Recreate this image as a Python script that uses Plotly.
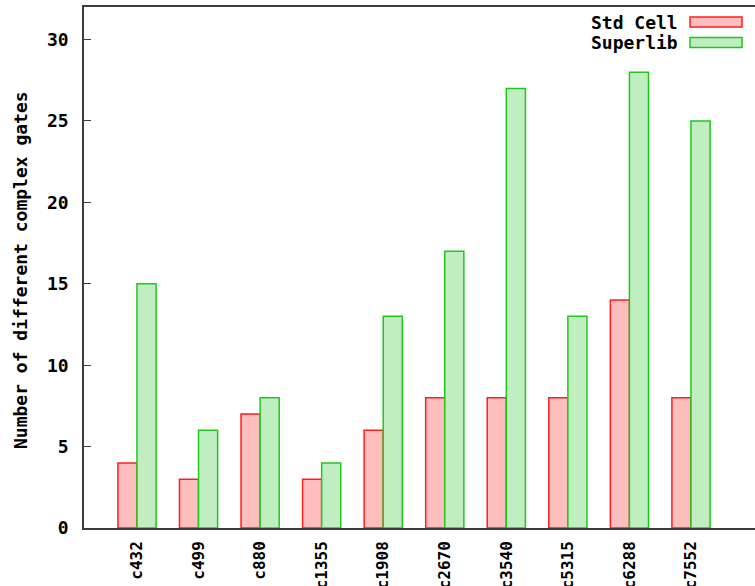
import plotly.graph_objects as go

circuits = ["c432", "c499", "c880", "c1355", "c1908", "c2670", "c3540", "c5315", "c6288", "c7552"]
std_cell = [4, 3, 7, 3, 6, 8, 8, 8, 14, 8]
superlib = [15, 6, 8, 4, 13, 17, 27, 13, 28, 25]
series_names = ["Std Cell", "Superlib"]
y_ticks = [0, 5, 10, 15, 20, 25, 30]

W, H = 755, 586
L, R, T, B = 84, 0, 7, 58
PW, PH = W - L - R, H - T - B

FONT = "DejaVu Sans Mono"
FS = 18
red_fill, red_line = "rgb(255,190,190)", "rgb(255,30,30)"
green_fill, green_line = "rgb(192,238,192)", "rgb(30,200,30)"

fig = go.Figure()
fig.add_trace(go.Bar(x=circuits, y=std_cell, name=series_names[0],
                     marker=dict(color=red_fill, line=dict(color=red_line, width=1.5))))
fig.add_trace(go.Bar(x=circuits, y=superlib, name=series_names[1],
                     marker=dict(color=green_fill, line=dict(color=green_line, width=1.5))))


def px_x(p):
    return (p - L) / PW


def px_y(p):
    return (H - B - p) / PH


# key drawn in the top right corner: label then swatch
shapes = []
annotations = []
for i, (name, fc, lc) in enumerate([(series_names[0], red_fill, red_line),
                                      (series_names[1], green_fill, green_line)]):
    yc = 22 + i * 20.5
    shapes.append(dict(type="rect", xref="paper", yref="paper",
                       x0=px_x(690), x1=px_x(742), y0=px_y(yc + 5), y1=px_y(yc - 5),
                       fillcolor=fc, line=dict(color=lc, width=1.5)))
    annotations.append(dict(text="<b>%s</b>" % name, xref="paper", yref="paper",
                            x=px_x(680), y=px_y(yc), xanchor="right", yanchor="middle",
                            showarrow=False, font=dict(family=FONT, size=FS, color="black")))

annotations.append(dict(text="<b>Number of different complex gates</b>", xref="paper", yref="paper",
                        x=px_x(20), y=px_y(270), xanchor="center", yanchor="middle",
                        textangle=-90, showarrow=False,
                        font=dict(family=FONT, size=FS, color="black")))

fig.update_layout(
    width=W, height=H,
    margin=dict(l=L, r=R, t=T, b=B, pad=0, autoexpand=False),
    paper_bgcolor="white", plot_bgcolor="white",
    barmode="group", bargap=0.38, bargroupgap=0,
    showlegend=False,
    shapes=shapes, annotations=annotations,
    font=dict(family=FONT, size=FS, color="black"),
)
fig.update_xaxes(
    range=[-0.861, 10.04], showline=True, linecolor="rgb(60,60,60)", linewidth=1.5,
    mirror=True, ticks="", tickangle=-90, showgrid=False, zeroline=False,
    automargin=False, ticklabelstandoff=5,
    tickvals=circuits, ticktext=["<b>%s</b>" % c for c in circuits],
    tickfont=dict(family=FONT, size=16, color="black"),
)
fig.update_yaxes(
    range=[0, 32], showline=True, linecolor="rgb(60,60,60)", linewidth=1.5,
    mirror=False, ticks="inside", ticklen=7, tickcolor="rgb(60,60,60)", tickwidth=1.2,
    tickvals=y_ticks, ticktext=["<b>%d</b>" % v for v in y_ticks],
    showgrid=False, zeroline=False, automargin=False, ticklabelstandoff=10,
    tickfont=dict(family=FONT, size=FS, color="black"),
)

fig.write_html("out.html")
